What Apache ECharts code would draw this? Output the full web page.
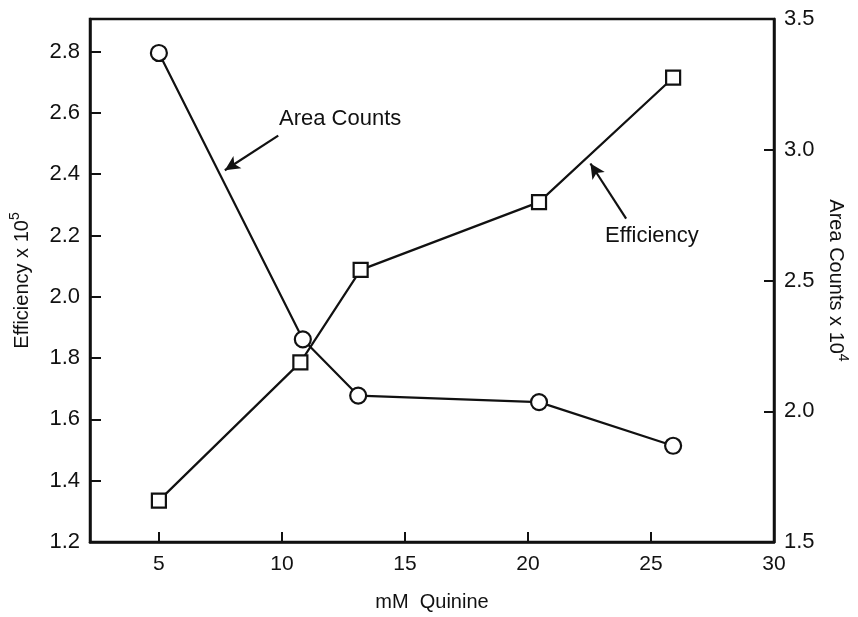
<!DOCTYPE html>
<html>
<head>
<meta charset="utf-8">
<script src="https://cdn.jsdelivr.net/npm/echarts@6/dist/echarts.min.js"></script>
<style>
  html, body { margin: 0; padding: 0; background: #fff; }
  #chart { width: 858px; height: 617px; }
</style>
</head>
<body>
<div id="chart"></div>
<script>
// Quinine concentration (mM)
const quinineMM = [5, 10.75, 13.2, 20.45, 25.9];
const quinineMMCounts = [5, 10.85, 13.1, 20.45, 25.9];
// Efficiency x 10^5 (left axis, squares)
const efficiency = [1.335, 1.786, 2.088, 2.309, 2.715];
// Area counts x 10^4 (right axis, circles)
const areaCounts = [3.37, 2.275, 2.06, 2.035, 1.868];
// x-axis tick positions
const xTicks = [5, 10, 15, 20, 25, 30];

// Annotation arrows, in data units of the x axis / left axis
const areaArrow = [[9.85, 2.526], [7.68, 2.413]];
const effArrow = [[23.99, 2.255], [22.54, 2.435]];

const FONT = '"Liberation Sans", Arial, Helvetica, sans-serif';
const INK = '#111';

const chart = echarts.init(document.getElementById('chart'), null, { renderer: 'canvas' });

const arrowLine = (pts) => ({
  silent: true,
  symbol: ['none', 'arrow'],
  symbolSize: [11, 15],
  label: { show: false },
  lineStyle: { color: INK, width: 2.2, type: 'solid' },
  data: [[{ coord: pts[0] }, { coord: pts[1] }]]
});

chart.setOption({
  animation: false,
  backgroundColor: '#fff',
  textStyle: { fontFamily: FONT, color: INK },
  grid: {
    left: 90, right: 79, top: 19, bottom: 69,
    show: true, borderColor: INK, borderWidth: 2.5, backgroundColor: 'transparent'
  },
  xAxis: {
    type: 'value', min: 2.2, max: 30,
    name: 'mM  Quinine', nameLocation: 'middle', nameGap: 50,
    nameTextStyle: { fontSize: 20, color: INK, fontFamily: FONT },
    axisLine: { show: true, lineStyle: { color: INK, width: 2.5 } },
    axisTick: { show: true, inside: true, length: 10, customValues: xTicks, lineStyle: { color: INK, width: 2 } },
    axisLabel: { fontSize: 21, color: INK, margin: 12, customValues: xTicks, fontFamily: FONT },
    splitLine: { show: false }
  },
  yAxis: [
    {
      type: 'value', position: 'left', min: 1.2, max: 2.9065, interval: 0.2,
      name: '{a|Efficiency x 10}{b|5}', nameLocation: 'middle', nameGap: 58,
      nameTextStyle: {
        rich: {
          a: { fontSize: 20, color: INK, fontFamily: FONT, lineHeight: 24, verticalAlign: 'bottom' },
          b: { fontSize: 14, color: INK, fontFamily: FONT, lineHeight: 24, verticalAlign: 'top' }
        }
      },
      axisLine: { show: true, lineStyle: { color: INK, width: 2.5 } },
      axisTick: { show: true, inside: true, length: 11, lineStyle: { color: INK, width: 2 } },
      axisLabel: {
        fontSize: 22, color: INK, margin: 10, showMaxLabel: false, fontFamily: FONT,
        formatter: (v) => v.toFixed(1)
      },
      splitLine: { show: false }
    },
    {
      type: 'value', position: 'right', min: 1.5, max: 3.5, interval: 0.5,
      name: '{a|Area Counts x 10}{b|4}', nameLocation: 'middle', nameGap: 52, nameRotate: -90,
      nameTextStyle: {
        rich: {
          a: { fontSize: 20, color: INK, fontFamily: FONT, lineHeight: 24, verticalAlign: 'bottom' },
          b: { fontSize: 14, color: INK, fontFamily: FONT, lineHeight: 24, verticalAlign: 'top' }
        }
      },
      axisLine: { show: true, lineStyle: { color: INK, width: 2.5 } },
      axisTick: { show: true, inside: true, length: 10, lineStyle: { color: INK, width: 2 } },
      axisLabel: {
        fontSize: 22, color: INK, margin: 10, fontFamily: FONT,
        formatter: (v) => v.toFixed(1)
      },
      splitLine: { show: false }
    }
  ],
  series: [
    {
      name: 'Efficiency', type: 'line', yAxisIndex: 0,
      data: quinineMM.map((x, i) => [x, efficiency[i]]),
      symbol: 'rect', symbolSize: 14,
      itemStyle: { color: '#fff', borderColor: INK, borderWidth: 2.2 },
      lineStyle: { color: INK, width: 2.2 },
      z: 3,
      markLine: arrowLine(effArrow)
    },
    {
      name: 'Area Counts', type: 'line', yAxisIndex: 1,
      data: quinineMMCounts.map((x, i) => [x, areaCounts[i]]),
      symbol: 'circle', symbolSize: 16,
      itemStyle: { color: '#fff', borderColor: INK, borderWidth: 2.2 },
      lineStyle: { color: INK, width: 2.2 },
      z: 2
    },
    {
      name: 'annotation', type: 'line', yAxisIndex: 0, data: [],
      markLine: arrowLine(areaArrow)
    }
  ],
  graphic: [
    {
      type: 'text', left: 279, top: 108,
      style: { text: 'Area Counts', font: '22px ' + FONT, fill: INK }
    },
    {
      type: 'text', left: 605, top: 225,
      style: { text: 'Efficiency', font: '22px ' + FONT, fill: INK }
    }
  ]
});
</script>
</body>
</html>
